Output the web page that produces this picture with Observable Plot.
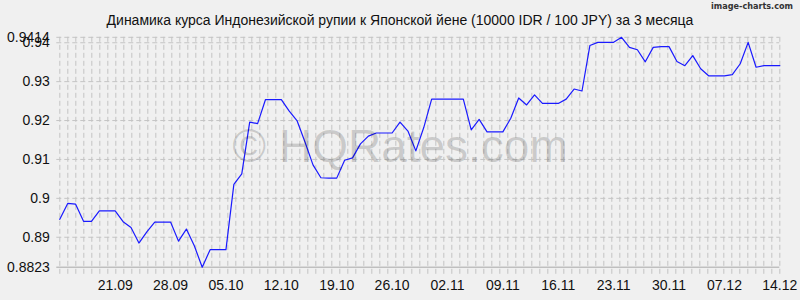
<!DOCTYPE html>
<html>
<head>
<meta charset="utf-8">
<script src="https://cdn.jsdelivr.net/npm/d3@7"></script>
<script src="https://cdn.jsdelivr.net/npm/@observablehq/plot@0.6"></script>
<style>
  html, body { margin: 0; padding: 0; background: #f0f0f0; }
  #wrap { position: relative; width: 800px; height: 300px; overflow: hidden; font-family: "Liberation Sans", Arial, sans-serif; }
  #title { position: absolute; top: 12px; left: 0; width: 800px; text-align: center; font-size: 14px; line-height: 16px; color: #111; }
  #brand { position: absolute; top: 0px; right: 7px; font-family: "DejaVu Sans Condensed", "DejaVu Sans", sans-serif; font-weight: bold; font-size: 9px; line-height: 12px; color: #333; }
  #wm { position: absolute; top: 120px; left: 0; width: 800px; text-align: center; font-size: 46px; line-height: 52px; color: rgba(0,0,0,0.16); pointer-events: none; }
  svg { position: absolute; top: 0; left: 0; }
</style>
</head>
<body>
<div id="wrap">
  <div id="chart"></div>
  <div id="title"></div>
  <div id="brand"></div>
  <div id="wm"></div>
</div>
<script>
const titleText = "Динамика курса Индонезийской рупии к Японской йене (10000 IDR / 100 JPY) за 3 месяца";
const brandText = "image-charts.com";
const watermarkText = "© HQRates.com";

const startDate = new Date(Date.UTC(2025, 8, 14));
const endDate = new Date(Date.UTC(2025, 11, 14));

// daily rates 14.09 … 14.12
const rates = [
  0.8946, 0.8987, 0.8985, 0.8941, 0.8941, 0.8968, 0.8968, 0.8968, 0.8940, 0.8925, 0.8885, 0.8914, 0.8939, 0.8939, 0.8939, 0.8890,
  0.8921, 0.8878, 0.8823, 0.8868, 0.8868, 0.8868, 0.9036, 0.9063, 0.9196, 0.9192, 0.9254, 0.9254, 0.9254, 0.9224, 0.9199,
  0.9144, 0.9086, 0.9053, 0.9052, 0.9052, 0.9098, 0.9104, 0.9140, 0.9160, 0.9168, 0.9168, 0.9168, 0.9196, 0.9173, 0.9122,
  0.9182, 0.9255, 0.9255, 0.9255, 0.9255, 0.9255, 0.9176, 0.9203, 0.9171, 0.9171, 0.9171, 0.9206, 0.9258, 0.9240, 0.9266,
  0.9244, 0.9244, 0.9244, 0.9255, 0.9281, 0.9276, 0.9393, 0.9401, 0.9401, 0.9401, 0.9414, 0.9388, 0.9382, 0.9351, 0.9388,
  0.9390, 0.9390, 0.9352, 0.9341, 0.9367, 0.9333, 0.9315, 0.9315, 0.9315, 0.9318, 0.9346, 0.9401, 0.9337, 0.9341, 0.9341, 0.9341
];

const yMin = 0.8823;
const yMax = 0.9414;
const yTicks = [0.8823, 0.89, 0.90, 0.91, 0.92, 0.93, 0.94, 0.9414];
const xTickLabels = ["21.09", "28.09", "05.10", "12.10", "19.10", "26.10", "02.11", "09.11", "16.11", "23.11", "30.11", "07.12", "14.12"];
const gridDivisions = 90;

const parseTick = s => {
  const [d, m] = s.split(".").map(Number);
  return new Date(Date.UTC(2025, m - 1, d));
};
const xTicks = xTickLabels.map(parseTick);

const days = d3.utcDay.range(startDate, d3.utcDay.offset(endDate, 1));
const data = days.map((date, i) => ({date, rate: rates[i]}));

const span = endDate - startDate;
const gridDates = d3.range(gridDivisions + 1).map(i => new Date(+startDate + span * i / gridDivisions));

const chart = Plot.plot({
  width: 800,
  height: 300,
  marginLeft: 59.3,
  marginRight: 20.7,
  marginTop: 36.8,
  marginBottom: 33.3,
  style: {background: "transparent", fontFamily: "'Liberation Sans', Arial, sans-serif", fontSize: "14px", color: "#111", overflow: "visible"},
  x: {type: "utc", domain: [startDate, endDate]},
  y: {domain: [yMin, yMax]},
  marks: [
    Plot.ruleX(gridDates, {x: d => d, stroke: "#c4c4c4", strokeDasharray: "5,3", insetBottom: -10}),
    Plot.ruleY(yTicks.slice(1), {y: d => d, stroke: "#c4c4c4", strokeDasharray: "5,3", insetLeft: -3}),
    Plot.ruleY([yMin], {y: d => d, stroke: "#a8a8a8", insetLeft: -3}),
    Plot.axisY({ticks: yTicks, tickFormat: d => String(d), tickSize: 0, tickPadding: 10, label: null, fontSize: 14}),
    Plot.axisX({ticks: xTicks, tickFormat: d3.utcFormat("%d.%m"), tickSize: 0, tickPadding: 13, label: null, fontSize: 14}),
    Plot.line(data, {x: "date", y: "rate", stroke: "#1a1aff", strokeWidth: 1.2})
  ]
});

document.getElementById("chart").appendChild(chart);
document.getElementById("title").textContent = titleText;
document.getElementById("brand").textContent = brandText;
document.getElementById("wm").textContent = watermarkText;
</script>
</body>
</html>
